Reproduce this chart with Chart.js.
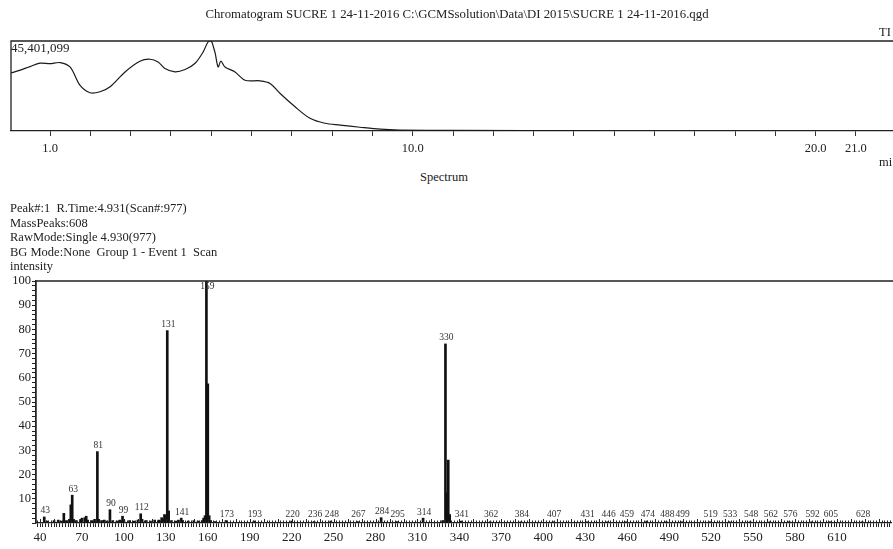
<!DOCTYPE html>
<html>
<head>
<meta charset="utf-8">
<script src="https://cdn.jsdelivr.net/npm/chart.js@4"></script>
<style>
  body { margin: 0; background: #fff; }
  #page { position: relative; width: 893px; height: 549px; overflow: hidden; font-family: "Liberation Serif", serif; color: #222; }
  .t { position: absolute; white-space: pre; font-size: 12.5px; line-height: 13px; }
  #chrom { position: absolute; left: 0; top: 0; }
  #spec { position: absolute; left: 0; top: 270px; }
</style>
</head>
<body>
<div id="page">
  <canvas id="chrom" width="893" height="170"></canvas>
  <canvas id="spec" width="893" height="279"></canvas>
  <div class="t" style="left:0;width:914px;text-align:center;top:8px;font-size:12.8px">Chromatogram SUCRE 1 24-11-2016 C:\GCMSsolution\Data\DI 2015\SUCRE 1 24-11-2016.qgd</div>
  <div class="t" style="left:879px;top:26px">TI</div>
  <div class="t" style="left:11px;top:41px;font-size:13px">45,401,099</div>
  <div class="t" style="left:879px;top:156px">mi</div>
  <div class="t" style="left:0;width:888px;text-align:center;top:171px">Spectrum</div>
  <div class="t" style="left:10px;top:201px;line-height:14.5px">Peak#:1  R.Time:4.931(Scan#:977)
MassPeaks:608
RawMode:Single 4.930(977)
BG Mode:None  Group 1 - Event 1  Scan
intensity</div>
</div>
<script>
// TIC chromatogram (time in min, intensity in millions)
const chromTime = [0.03, 0.26, 0.5, 0.75, 1.0, 1.25, 1.5, 1.74, 1.99, 2.24, 2.49, 2.86, 3.23, 3.48, 3.68, 3.85, 4.1, 4.35, 4.6, 4.8, 4.92, 5.0, 5.06, 5.1, 5.17, 5.24, 5.34, 5.59, 5.84, 6.21, 6.46, 6.71, 7.08, 7.45, 7.82, 8.2, 8.69, 9.19, 9.68, 11.05, 14.6];
const chromValue = [29.3, 30.7, 32.5, 34.2, 34.0, 34.5, 32.2, 23.1, 19.3, 19.8, 22.3, 29.8, 35.2, 36.2, 34.8, 31.5, 29.8, 31.0, 34.2, 39.9, 44.9, 45.4, 42.0, 39.0, 32.3, 35.2, 32.3, 29.8, 25.6, 25.3, 24.0, 18.9, 12.2, 6.4, 3.9, 3.0, 1.9, 0.9, 0.5, 0.3, 0.1];
const chromMax = 45.401099;
const chromLabels = [1, 10, 20, 21];

// mass spectrum (m/z, relative intensity %)
const mz = [43, 45, 50, 53, 55, 57, 59, 61, 62, 63, 64, 66, 69, 70, 72, 73, 74, 77, 79, 81, 82, 84, 86, 88, 90, 92, 95, 97, 99, 100, 104, 107, 110, 112, 113, 116, 119, 122, 125, 127, 128, 129, 130, 131, 132, 134, 137, 139, 141, 142, 146, 150, 153, 156, 157, 158, 159, 160, 161, 162, 165, 173, 193, 220, 236, 248, 267, 284, 295, 314, 328, 330, 331, 332, 333, 341, 362, 384, 407, 431, 446, 459, 474, 488, 499, 519, 533, 548, 562, 576, 592, 605, 628];
const rel = [2.5, 0.8, 1, 1.2, 0.8, 4, 1, 1.5, 7.5, 11.5, 1.5, 1, 1.5, 2, 2.2, 2.8, 1.2, 1, 1.5, 29.5, 1.5, 1, 1.2, 0.8, 5.5, 1, 0.8, 1.2, 2.8, 1, 1, 0.8, 1.2, 3.8, 1.5, 1, 0.8, 1.2, 1.2, 2.2, 1.5, 3.5, 3.2, 79.5, 5, 1, 0.8, 1.2, 2, 1, 0.8, 1, 0.8, 1, 2, 3, 100, 57.5, 3, 1, 0.6, 1, 0.8, 0.8, 0.6, 0.8, 0.6, 2.2, 0.6, 2, 1, 74, 12.5, 26, 3.5, 0.8, 0.5, 0.5, 0.5, 0.5, 0.5, 0.5, 0.8, 0.5, 0.5, 0.5, 0.5, 0.5, 0.5, 0.5, 0.5, 0.5, 0.5];
const peakLabels = [43, 63, 81, 90, 99, 112, 131, 141, 159, 173, 193, 220, 236, 248, 267, 284, 295, 314, 330, 341, 362, 384, 407, 431, 446, 459, 474, 488, 499, 519, 533, 548, 562, 576, 592, 605, 628];

const serif = '"Liberation Serif", serif';

// draws the left and top frame lines, plus small upward ticks on the spectrum axis
const framePlugin = {
  id: 'frame',
  afterDraw(chart, args, opts) {
    const { ctx, chartArea: a } = chart;
    ctx.save();
    ctx.strokeStyle = '#222';
    ctx.lineWidth = 1.3;
    ctx.beginPath();
    ctx.moveTo(a.left, a.bottom);
    ctx.lineTo(a.left, a.top);
    ctx.lineTo(a.right + 5, a.top);
    ctx.stroke();
    if (opts.upTicks) {
      const xs = chart.scales.x;
      ctx.lineWidth = 1;
      ctx.beginPath();
      xs.ticks.forEach(t => {
        const px = Math.round(xs.getPixelForValue(t.value)) + 0.5;
        ctx.moveTo(px, a.bottom);
        ctx.lineTo(px, a.bottom - (t.value % 10 === 0 ? 4 : 2.5));
      });
      ctx.stroke();
    }
    ctx.restore();
  }
};

// m/z labels above the spectrum peaks
const peakLabelPlugin = {
  id: 'peakLabels',
  afterDatasetsDraw(chart) {
    if (!chart.options.plugins.peakLabels) return;
    const { ctx, chartArea: a } = chart;
    const xs = chart.scales.x, ys = chart.scales.y;
    ctx.save();
    ctx.font = '9.5px ' + serif;
    ctx.fillStyle = '#333';
    ctx.textAlign = 'center';
    ctx.textBaseline = 'middle';
    peakLabels.forEach(m => {
      const v = rel[mz.indexOf(m)];
      const px = xs.getPixelForValue(m);
      let py = Math.min(ys.getPixelForValue(v) - 6, ys.getPixelForValue(0) - 9);
      if (py < a.top + 5) py = a.top + 5;
      ctx.fillText(String(m), px + 1, py);
    });
    ctx.restore();
  }
};

new Chart(document.getElementById('chrom'), {
  type: 'line',
  data: {
    datasets: [{
      data: chromTime.map((t, i) => ({ x: t, y: chromValue[i] })),
      borderColor: '#1a1a1a',
      borderWidth: 1.2,
      pointRadius: 0,
      tension: 0.3,
      fill: false
    }]
  },
  options: {
    responsive: false,
    animation: false,
    layout: { padding: { left: 11, top: 41, right: 0, bottom: 0 } },
    plugins: { legend: { display: false }, tooltip: { enabled: false }, frame: {} },
    scales: {
      x: {
        type: 'linear', min: 0.03, max: 21.92,
        afterFit: s => { s.height = 39; },
        border: { display: true, color: '#222', width: 1.3 },
        grid: { drawOnChartArea: false, tickLength: 5, color: '#333' },
        ticks: {
          stepSize: 1, includeBounds: false, autoSkip: false, maxRotation: 0, padding: 5,
          color: '#222', font: { family: serif, size: 12.5 },
          callback: v => chromLabels.includes(v) ? v.toFixed(1) : ''
        }
      },
      y: { display: false, min: 0, max: chromMax }
    }
  },
  plugins: [framePlugin]
});

new Chart(document.getElementById('spec'), {
  type: 'bar',
  data: {
    datasets: [{
      data: mz.map((m, i) => ({ x: m, y: rel[i] })),
      backgroundColor: '#111',
      barThickness: 2,
      grouped: false
    }]
  },
  options: {
    responsive: false,
    animation: false,
    layout: { padding: { left: 0, top: 11, right: 0, bottom: 0 } },
    plugins: { legend: { display: false }, tooltip: { enabled: false }, frame: { upTicks: true }, peakLabels: true },
    scales: {
      x: {
        type: 'linear', min: 37.1, max: 648.8, offset: false,
        afterFit: s => { s.height = 26; },
        border: { display: true, color: '#222', width: 1.3 },
        grid: { drawOnChartArea: false, tickLength: 4, color: '#222', offset: false },
        ticks: {
          stepSize: 2, includeBounds: false, autoSkip: false, maxRotation: 0, padding: 3,
          color: '#222', font: { family: serif, size: 13 },
          callback: v => ((v - 40) % 30 === 0 && v <= 610) ? String(v) : ''
        }
      },
      y: {
        min: 0, max: 100,
        afterFit: s => { s.width = 36; },
        border: { display: true, color: '#222', width: 1.3 },
        grid: { drawOnChartArea: false, tickLength: 4, color: '#222' },
        ticks: {
          stepSize: 2, autoSkip: false, padding: 1,
          color: '#222', font: { family: serif, size: 12.5 },
          callback: v => (v % 10 === 0 && v > 0) ? String(v) : ''
        }
      }
    }
  },
  plugins: [framePlugin, peakLabelPlugin]
});
</script>
</body>
</html>
